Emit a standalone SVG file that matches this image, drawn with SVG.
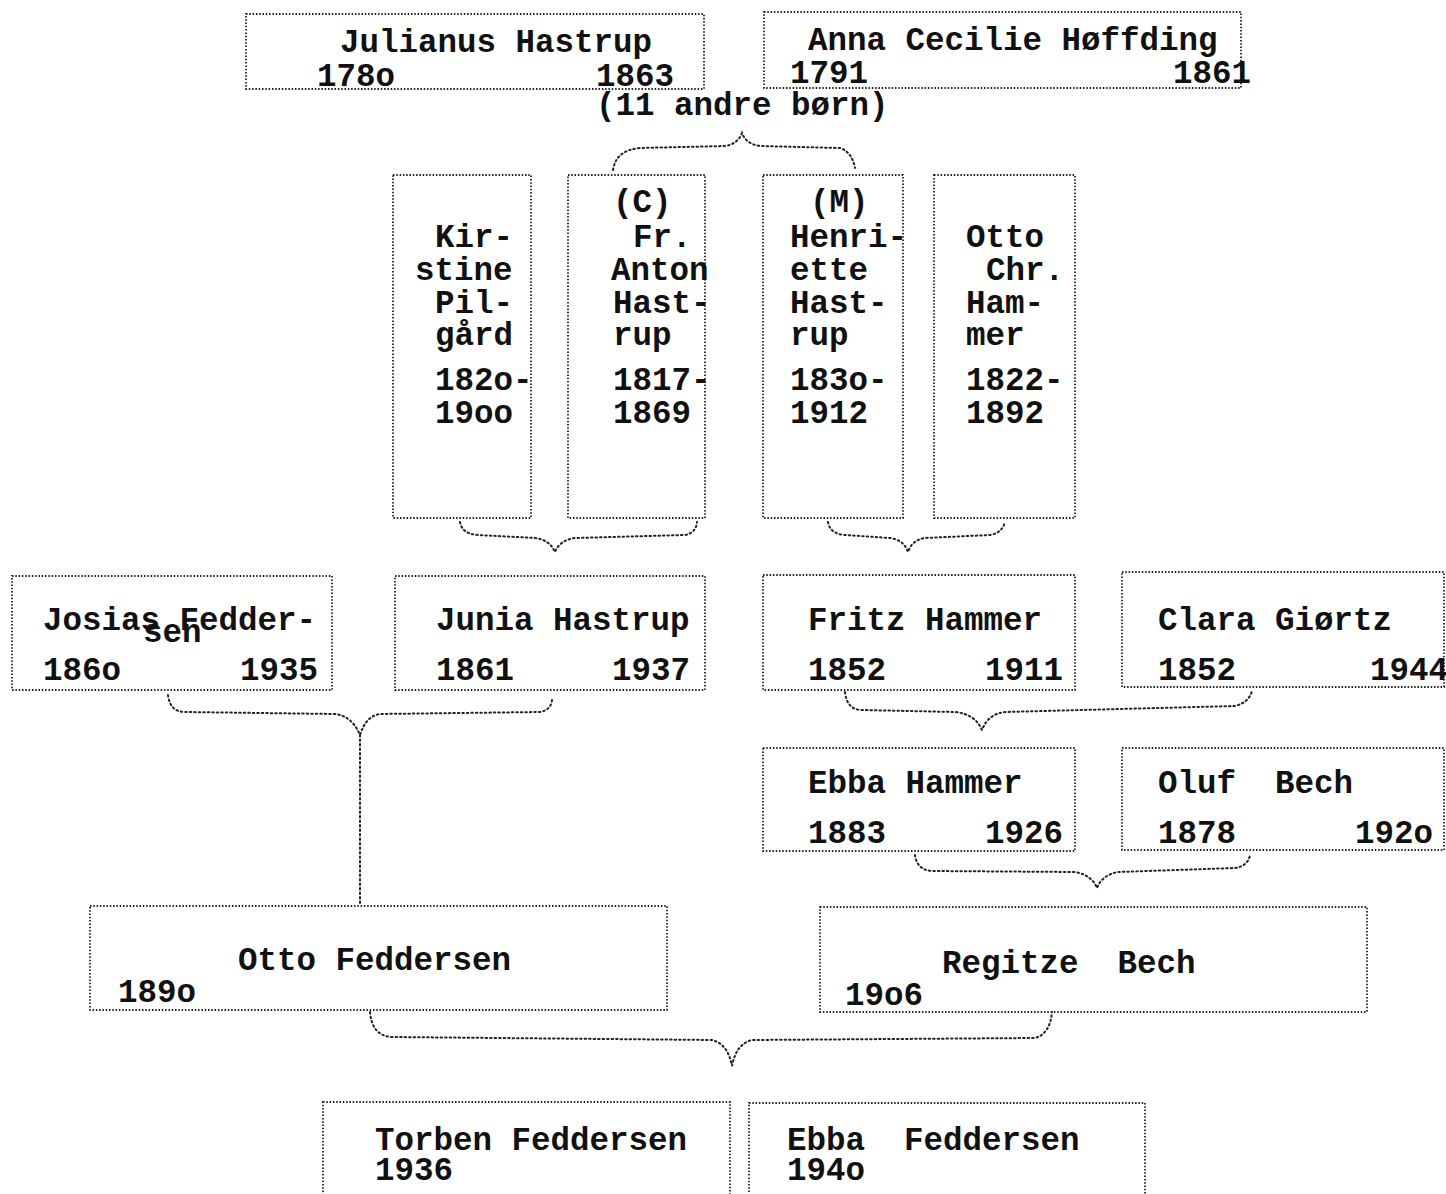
<svg xmlns="http://www.w3.org/2000/svg" width="1446" height="1194" viewBox="0 0 1446 1194">
<style>
.bx{fill:none;stroke:#222;stroke-width:1.8;stroke-dasharray:1.5 1.8}
.cn{fill:none;stroke:#222;stroke-width:2;stroke-dasharray:1.5 3;stroke-linecap:round}
text{font-family:"Liberation Mono","Courier New",monospace;font-size:32.5px;fill:#111;font-weight:bold;white-space:pre}
</style>
<rect x="0" y="0" width="1446" height="1194" fill="#fff"/>
<g id="julianus"><rect class="bx" x="246" y="14" width="458" height="75"/><text x="340" y="52">Julianus Hastrup</text><text x="317" y="86">178o</text><text x="596" y="86">1863</text></g>
<g id="anna"><rect class="bx" x="764" y="12" width="477" height="76"/><text x="808" y="50">Anna Cecilie Høffding</text><text x="790" y="83">1791</text><text x="1173" y="83">1861</text></g>
<g id="andre"><text x="596" y="115">(11 andre børn)</text></g>
<g id="kirstine"><rect class="bx" x="393" y="175" width="138" height="343"/><text x="435" y="247">Kir-</text><text x="415" y="280">stine</text><text x="435" y="313">Pil-</text><text x="435" y="345">gård</text><text x="435" y="390">182o-</text><text x="435" y="423">19oo</text></g>
<g id="anton"><rect class="bx" x="568" y="175" width="137" height="343"/><text x="613" y="212">(C)</text><text x="633" y="247">Fr.</text><text x="611" y="280">Anton</text><text x="613" y="313">Hast-</text><text x="613" y="345">rup</text><text x="613" y="390">1817-</text><text x="613" y="423">1869</text></g>
<g id="henriette"><rect class="bx" x="763" y="175" width="140" height="343"/><text x="810" y="212">(M)</text><text x="790" y="247">Henri-</text><text x="790" y="280">ette</text><text x="790" y="313">Hast-</text><text x="790" y="345">rup</text><text x="790" y="390">183o-</text><text x="790" y="423">1912</text></g>
<g id="ottochr"><rect class="bx" x="934" y="175" width="141" height="343"/><text x="966" y="247">Otto</text><text x="986" y="280">Chr.</text><text x="966" y="313">Ham-</text><text x="966" y="345">mer</text><text x="966" y="390">1822-</text><text x="966" y="423">1892</text></g>
<g id="josias"><rect class="bx" x="12" y="576" width="320" height="114"/><text x="43" y="630">Josias Fedder-</text><text x="143" y="642">sen</text><text x="43" y="680">186o</text><text x="240" y="680">1935</text></g>
<g id="junia"><rect class="bx" x="395" y="576" width="310" height="114"/><text x="436" y="630">Junia Hastrup</text><text x="436" y="680">1861</text><text x="612" y="680">1937</text></g>
<g id="fritz"><rect class="bx" x="763" y="575" width="312" height="115"/><text x="808" y="630">Fritz Hammer</text><text x="808" y="680">1852</text><text x="985" y="680">1911</text></g>
<g id="clara"><rect class="bx" x="1122" y="572" width="322" height="115"/><text x="1158" y="630">Clara Giørtz</text><text x="1158" y="680">1852</text><text x="1370" y="680">1944</text></g>
<g id="ebbah"><rect class="bx" x="763" y="748" width="312" height="103"/><text x="808" y="793">Ebba Hammer</text><text x="808" y="843">1883</text><text x="985" y="843">1926</text></g>
<g id="oluf"><rect class="bx" x="1122" y="748" width="322" height="102"/><text x="1158" y="793">Oluf  Bech</text><text x="1158" y="843">1878</text><text x="1355" y="843">192o</text></g>
<g id="ottof"><rect class="bx" x="90" y="906" width="577" height="104"/><text x="238" y="970">Otto Feddersen</text><text x="118" y="1002">189o</text></g>
<g id="regitze"><rect class="bx" x="820" y="907" width="547" height="105"/><text x="942" y="973">Regitze  Bech</text><text x="845" y="1005">19o6</text></g>
<g id="torben"><rect class="bx" x="323" y="1102" width="407" height="100"/><text x="375" y="1150">Torben Feddersen</text><text x="375" y="1180">1936</text></g>
<g id="ebbaf"><rect class="bx" x="749" y="1103" width="396" height="99"/><text x="787" y="1150">Ebba  Feddersen</text><text x="787" y="1180">194o</text></g>
<g id="connectors">
<path class="cn" d="M613,170 Q616,150 640,148 L725,146 Q738,144 742,133 Q746,144 760,146 L840,148 Q852,152 855,168"/>
<path class="cn" d="M460,522 Q462,534 478,535 L535,538 Q550,540 555,552 Q560,540 575,538 L685,535 Q696,533 697,522"/>
<path class="cn" d="M828,522 Q830,534 845,535 L890,538 Q904,540 908,552 Q912,540 925,538 L990,535 Q1002,533 1005,522"/>
<path class="cn" d="M168,695 Q170,712 185,712 L335,714 Q352,716 360,735 Q366,716 380,714 L540,712 Q551,710 552,700"/>
<path class="cn" d="M360,735 L360,905"/>
<path class="cn" d="M845,692 Q847,710 862,710 L955,712 Q975,714 982,730 Q988,714 1005,712 L1235,706 Q1250,702 1252,690"/>
<path class="cn" d="M915,855 Q917,870 932,871 L1075,872 Q1092,875 1097,888 Q1102,875 1118,872 L1235,868 Q1248,866 1250,855"/>
<path class="cn" d="M370,1012 Q372,1036 392,1037 L712,1040 Q728,1044 732,1066 Q736,1044 752,1040 L1035,1038 Q1050,1034 1052,1012"/>
</g>
</svg>
